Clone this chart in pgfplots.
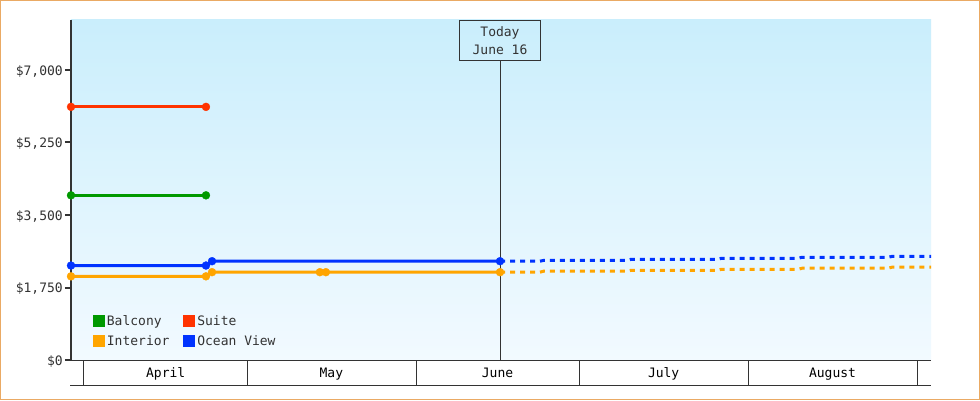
\documentclass[border=0pt]{standalone}
\usepackage{fontspec}
\setmainfont{DejaVu Sans Mono}
\usepackage{pgfplots}
\pgfplotsset{compat=1.18}
\definecolor{balc}{RGB}{0,153,0}
\definecolor{suite}{RGB}{255,51,0}
\definecolor{inter}{RGB}{255,165,0}
\definecolor{ocean}{RGB}{0,51,255}
\definecolor{axgray}{RGB}{51,51,51}
\definecolor{frameor}{RGB}{234,170,100}
\definecolor{bgtop}{RGB}{202,238,252}
\definecolor{bgbot}{RGB}{242,250,255}
\begin{document}
\begin{tikzpicture}[font=\fontsize{13}{18}\selectfont]
\filldraw[fill=white, draw=frameor, line width=1pt] (-70.5pt,-39.5pt) rectangle (908.5pt,359.5pt);
\begin{axis}[
  at={(0pt,0pt)}, anchor=south west,
  scale only axis, width=860pt, height=340pt,
  xmin=-2.386, xmax=155.47, ymin=0, ymax=8207,
  clip=false,
  axis x line=bottom, axis y line=left,
  x axis line style={-, line width=1pt, color=axgray},
  y axis line style={-, line width=2pt, color=axgray},
  axis background/.style={top color=bgtop, bottom color=bgbot},
  ytick={0,1750,3500,5250,7000},
  yticklabels={\$0,{\$1,750},{\$3,500},{\$5,250},{\$7,000}},
  xtick={15,45.4,75.9,106.4,137.4},
  xticklabels={April,May,June,July,August},
  minor xtick={0,30,61,91,122,153},
  tick align=outside,
  major tick length=6pt, minor tick length=25pt,
  every major x tick/.append style={draw=none},
  every minor x tick/.append style={line width=1pt, color=axgray},
  every major y tick/.append style={line width=2pt, color=axgray},
  xticklabel style={anchor=north, inner sep=0pt, text=black, yshift=-1.5pt},
  yticklabel style={anchor=east, inner sep=0pt, text=axgray, xshift=-2pt, yshift=-1.5pt},
  legend columns=2,
  legend cell align=left,
  legend style={draw=none, fill=none, at={(axis description cs:0.02558,0.1331)}, anchor=north west,
    inner sep=0pt, outer sep=0pt, font=\fontsize{13}{18}\selectfont, text=axgray,
    nodes={inner xsep=2.5pt, inner ysep=0pt, text height=9.5pt, text depth=0pt},
    row sep=9pt,
    /tikz/every even column/.append style={column sep=11.4pt}},
]
% Suite
\addplot[suite, line width=3pt, mark=*, mark size=4pt, mark options={line width=0.3pt}, forget plot]
  coordinates {(-2.386,6110) (22.39,6110)};
% Balcony
\addplot[balc, line width=3pt, mark=*, mark size=4pt, mark options={line width=0.3pt}, forget plot]
  coordinates {(-2.386,3975) (22.39,3975)};
% Ocean View
\addplot[ocean, line width=3pt, mark=*, mark size=4pt, mark options={line width=0.3pt}, forget plot]
  coordinates {(-2.386,2280) (22.39,2280) (23.5,2385) (76.36,2385)};
\addplot[ocean, line width=3pt, dash pattern=on 5pt off 5pt, forget plot]
  coordinates {(76.36,2385) (83.7,2385) (84.4,2405) (99.7,2405) (100.4,2430) (116.3,2430) (117.0,2455)
   (131.1,2455) (131.8,2480) (147.6,2480) (148.3,2500) (155.47,2500)};
% Interior
\addplot[inter, line width=3pt, mark=*, mark size=4pt, mark options={line width=0.3pt}, forget plot]
  coordinates {(-2.386,2020) (22.39,2020) (23.5,2120) (43.3,2120) (44.4,2120) (76.36,2120)};
\addplot[inter, line width=3pt, dash pattern=on 5pt off 5pt, forget plot]
  coordinates {(76.36,2120) (83.7,2120) (84.4,2145) (99.7,2145) (100.4,2165) (116.3,2165) (117.0,2190)
   (131.1,2190) (131.8,2215) (147.6,2215) (148.3,2240) (155.47,2240)};
% legend
\addlegendimage{legend image code/.code={\fill[balc] (0pt,-5.5pt) rectangle (11pt,5.5pt);}}
\addlegendentry{Balcony}
\addlegendimage{legend image code/.code={\fill[suite] (0pt,-5.5pt) rectangle (11pt,5.5pt);}}
\addlegendentry{Suite}
\addlegendimage{legend image code/.code={\fill[inter] (0pt,-5.5pt) rectangle (11pt,5.5pt);}}
\addlegendentry{Interior}
\addlegendimage{legend image code/.code={\fill[ocean] (0pt,-5.5pt) rectangle (11pt,5.5pt);}}
\addlegendentry{Ocean View}
% today marker
\node[draw=axgray, line width=1pt, anchor=north, minimum width=81pt, minimum height=40pt,
  align=center, inner sep=0pt, text=axgray, font=\fontsize{13}{18}\selectfont] (today)
  at (axis cs:76.36,8207) {Today\\June 16};
\draw[axgray, line width=1pt] (axis cs:76.36,0) -- (today.south);
% bottom line of month band
\draw[axgray, line width=1pt] (axis description cs:-0.00116,-0.07353) -- (axis description cs:1,-0.07353);
\end{axis}
\pgfresetboundingbox
\path[use as bounding box] (-71pt,-40pt) rectangle (909pt,360pt);
\end{tikzpicture}
\end{document}
